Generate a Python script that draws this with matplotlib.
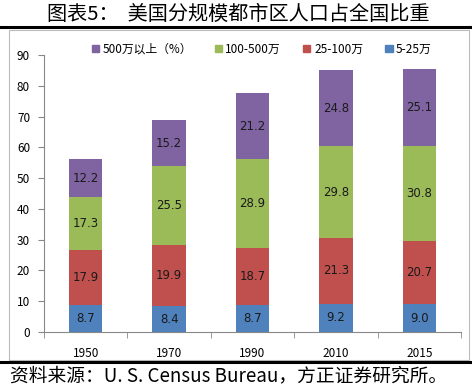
import matplotlib.pyplot as plt
from matplotlib.patches import Patch, Rectangle
from matplotlib.lines import Line2D

plt.rcParams['font.family'] = ['Noto Sans CJK SC', 'DejaVu Sans']

years = ["1950", "1970", "1990", "2010", "2015"]
s_5_25 = [8.7, 8.4, 8.7, 9.2, 9.0]
s_25_100 = [17.9, 19.9, 18.7, 21.3, 20.7]
s_100_500 = [17.3, 25.5, 28.9, 29.8, 30.8]
s_500 = [12.2, 15.2, 21.2, 24.8, 25.1]
yticks = list(range(0, 100, 10))

names = ["5-25万", "25-100万", "100-500万", "500万以上（%）"]
colors = ["#4F81BD", "#C0504D", "#9BBB59", "#8064A2"]
series = [s_5_25, s_25_100, s_100_500, s_500]

fig = plt.figure(figsize=(4.72, 3.86), dpi=100)
ax = fig.add_axes([44 / 472, 1 - 332 / 386, 417 / 472, 277 / 386])

x = list(range(len(years)))
bottom = [0] * len(years)
for vals, c in zip(series, colors):
    ax.bar(x, vals, width=0.4, bottom=bottom, color=c, edgecolor="none")
    for i, v in enumerate(vals):
        ax.text(x[i], bottom[i] + v / 2, f"{v}", ha="center", va="center",
                fontsize=8.5, color="#1a1a1a", family="DejaVu Sans")
    bottom = [b + v for b, v in zip(bottom, vals)]

ax.set_xlim(-0.5, 4.5)
ax.set_ylim(0, 90)
ax.set_yticks(yticks)
ax.set_xticks(x)
ax.set_xticklabels(years)
ax.set_xticks([i - 0.5 for i in range(len(years) + 1)], minor=True)
ax.tick_params(axis="x", which="major", length=0, pad=11, labelsize=8.5)
ax.tick_params(axis="x", which="minor", length=4, color="#888888")
ax.tick_params(axis="y", length=4, color="#888888", labelsize=8.5, pad=6)
for sp in ["top", "right"]:
    ax.spines[sp].set_visible(False)
for sp in ["left", "bottom"]:
    ax.spines[sp].set_color("#888888")

handles = [Patch(color=c) for c in colors[::-1]]
fig.legend(handles, names[::-1], ncol=4, loc="center", bbox_to_anchor=(0.555, 1 - 49 / 386),
           frameon=False, fontsize=8.5, handlelength=0.6, handleheight=0.6,
           handletextpad=0.3, columnspacing=1.9)

# outer frame and header/footer rules
fig.patches.append(Rectangle((9 / 472, 1 - 360 / 386), 460 / 472, 330 / 386,
                             transform=fig.transFigure, fill=False,
                             edgecolor="#bbbbbb", lw=0.8))
fig.lines.append(Line2D([0, 1], [1 - 27 / 386] * 2, transform=fig.transFigure,
                        color="black", lw=2.2))
fig.lines.append(Line2D([0, 1], [1 - 362 / 386] * 2, transform=fig.transFigure,
                        color="black", lw=2.2))

fig.text(0.505, 1 - 14 / 386, "图表5：  美国分规模都市区人口占全国比重", ha="center",
         va="center", fontsize=14.5, fontweight="medium")
fig.text(10 / 472, 1 - 376 / 386, "资料来源：U. S. Census Bureau，方正证券研究所。",
         ha="left", va="center", fontsize=13.5, style="italic")

fig.savefig("out.png", dpi=100)
